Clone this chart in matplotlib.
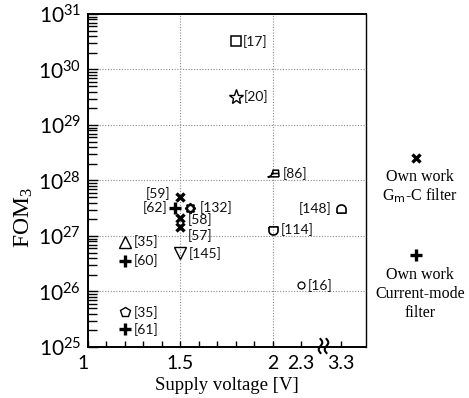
import numpy as np
import matplotlib
matplotlib.use("Agg")
import matplotlib.pyplot as plt
import matplotlib.transforms as mtransforms
from matplotlib.path import Path
from matplotlib.ticker import FixedLocator, FuncFormatter, LogLocator, NullFormatter

# ---- data -------------------------------------------------------------
refs = ["[17]", "[20]", "[86]", "[59]", "[62]", "[132]", "[58]", "[57]",
        "[35]", "[60]", "[145]", "[35]", "[61]", "[148]", "[114]", "[16]"]
supply_v = [1.8, 1.8, 2.0, 1.5, 1.47, 1.55, 1.5, 1.5,
            1.2, 1.2, 1.5, 1.2, 1.2, 3.3, 2.0, 2.3]
fom3 = [3.2e30, 3.2e29, 1.35e28, 5.1e27, 3.2e27, 3.2e27, 2.1e27, 1.45e27,
        7.9e26, 3.6e26, 4.9e26, 4.2e25, 2.1e25, 3.1e27, 1.3e27, 1.3e26]

x_major = [1, 1.5, 2, 2.3, 3.3]
x_major_labels = ["1", "1.5", "2", "2.3", "3.3"]
x_minor = [1.1, 1.2, 1.3, 1.4, 1.6, 1.7, 1.8, 1.9]

# ---- marker shapes ----------------------------------------------------
def arch_path(flip=False):
    t = np.linspace(0, np.pi, 30)
    xs = np.concatenate([[-1], -np.cos(t), [1, -1]])
    ys = np.concatenate([[-0.8], 0.1 + 0.9 * np.sin(t), [-0.8, -0.8]])
    verts = np.column_stack([xs, ys])
    if flip:
        verts[:, 1] *= -1
    return Path(verts)

def iron_path():
    t = np.linspace(0, np.pi / 2, 12)
    # curved front edge from the tip up to the handle
    front = np.column_stack([-1 + 0.9 * np.sin(t), -0.6 + 1.2 * (1 - np.cos(t))])
    outline = np.vstack([[[1, -0.6], [-1, -0.6]], front, [[0.9, 0.6], [1, -0.6]]])
    inner = np.array([[-0.45, 0.0], [0.95, 0.0]])
    verts = np.vstack([outline, inner])
    codes = ([Path.MOVETO] + [Path.LINETO] * (len(outline) - 1)
             + [Path.MOVETO, Path.LINETO])
    return Path(verts, codes)

gear = Path.unit_regular_star(8, innerCircle=0.72)

style = {
    "[17]":  dict(marker="s", ms=6.5, mew=1.1, fill=False),
    "[20]":  dict(marker="*", ms=11, mew=1.0, fill=False),
    "[86]":  dict(marker=iron_path(), ms=8, mew=1.1, fill=False),
    "[59]":  dict(marker="x", ms=6, mew=2.4, fill=True),
    "[62]":  dict(marker="+", ms=9, mew=2.4, fill=True),
    "[132]": dict(marker=gear, ms=6.5, mew=1.7, fill=False),
    "[58]":  dict(marker="x", ms=6, mew=2.4, fill=True),
    "[57]":  dict(marker="x", ms=6, mew=2.4, fill=True),
    "[60]":  dict(marker="+", ms=9, mew=2.4, fill=True),
    "[145]": dict(marker="v", ms=9, mew=1.0, fill=False),
    "[61]":  dict(marker="+", ms=9, mew=2.4, fill=True),
    "[148]": dict(marker=arch_path(), ms=6.5, mew=1.2, fill=False),
    "[114]": dict(marker=arch_path(flip=True), ms=6.5, mew=1.2, fill=False),
    "[16]":  dict(marker="o", ms=5, mew=0.9, fill=False),
}
tri_style = dict(marker="^", ms=9, mew=1.0, fill=False)
pent_style = dict(marker="p", ms=7.5, mew=1.0, fill=False)

# label offsets in points (dx, dy, ha)
label_pos = [(5, 0, "left"), (6, 0, "left"), (7, 0, "left"), (-7, 2.5, "right"),
             (-5, 0, "right"), (7, 0, "left"), (5, -1, "left"), (5, -6, "left"),
             (6, 0, "left"), (6, 0, "left"), (6, 0, "left"), (6, 0, "left"),
             (6, 0, "left"), (-7, 0, "right"), (6, 0, "left"), (5, 0, "left")]

# ---- broken supply-voltage scale --------------------------------------
A, B = 0.51, 0.217
U23 = 2 + 0.3 * A

def fwd(v):
    v = np.asarray(v, dtype=float)
    return np.where(v <= 2, v, np.where(v <= 2.3, 2 + (v - 2) * A, U23 + (v - 2.3) * B))

def inv(u):
    u = np.asarray(u, dtype=float)
    return np.where(u <= 2, u, np.where(u <= U23, 2 + (u - 2) / A, 2.3 + (u - U23) / B))

# ---- figure ------------------------------------------------------------
plt.rcParams["font.family"] = ["Lato", "DejaVu Sans"]
plt.rcParams["mathtext.default"] = "regular"

fig = plt.figure(figsize=(4.69, 3.98), dpi=100)
ax = fig.add_axes([88 / 469, 51 / 398, 278 / 469, 333 / 398])
ax.set_xscale("function", functions=(fwd, inv))
ax.set_yscale("log")
ax.set_xlim(1, 3.92)
ax.set_ylim(1e25, 1e31)

ax.xaxis.set_major_locator(FixedLocator(x_major))
ax.xaxis.set_minor_locator(FixedLocator(x_minor))
ax.set_xticklabels(x_major_labels)
ax.xaxis.set_minor_formatter(NullFormatter())
ax.yaxis.set_major_locator(LogLocator(base=10, numticks=20))
ax.yaxis.set_minor_locator(LogLocator(base=10, subs=np.arange(2, 10), numticks=20))
ax.yaxis.set_minor_formatter(NullFormatter())
ax.yaxis.set_major_formatter(FuncFormatter(lambda v, p: r"$10^{%d}$" % round(np.log10(v))))

ax.tick_params(axis="both", which="both", direction="in", color="black", width=1.0)
ax.tick_params(axis="y", which="major", length=7, labelsize=15, pad=5)
ax.tick_params(axis="y", which="minor", length=6.5)
ax.tick_params(axis="x", which="both", length=4, labelsize=14, pad=6)

# nudge the "1" label left of the axis corner
first = ax.get_xticklabels()[0]
first.set_transform(first.get_transform()
                    + mtransforms.ScaledTranslation(-5 / 100, 0, fig.dpi_scale_trans))

for s in ["left", "bottom", "top"]:
    ax.spines[s].set_linewidth(1.4)
ax.spines["right"].set_linewidth(1.0)

# dotted grid at decades and at 1.5 V / 2 V
for d in range(26, 31):
    ax.axhline(10.0 ** d, color="#8a8a8a", ls=(0, (1, 1.5)), lw=0.8, zorder=0)
for v in (1.5, 2.0):
    ax.axvline(v, color="#8a8a8a", ls=(0, (1, 1.5)), lw=0.8, zorder=0)

for i, (r, v, f) in enumerate(zip(refs, supply_v, fom3)):
    if r == "[35]":
        st = tri_style if f > 1e26 else pent_style
    else:
        st = style[r]
    ax.plot([v], [f], linestyle="none", marker=st["marker"], markersize=st["ms"],
            markeredgewidth=st["mew"], markeredgecolor="black",
            markerfacecolor="black" if st["fill"] else "none", clip_on=False, zorder=3)
    dx, dy, ha = label_pos[i]
    ax.annotate(r, (v, f), xytext=(dx, dy), textcoords="offset points",
                ha=ha, va="center", fontsize=10, color="#111111")

# axis break mark on the voltage axis
W, H = 469.0, 398.0
for x0 in (320.5, 326.5):
    yy = np.linspace(339, 353, 40)
    xx = x0 + 1.8 * np.sin((yy - 339) / 14 * 2 * np.pi)
    fig.add_artist(plt.Line2D(xx / W, 1 - yy / H, color="black", lw=1.5,
                              transform=fig.transFigure))

ax.set_xlabel("Supply voltage [V]", family="Liberation Serif", fontsize=13.5, labelpad=3)
ax.set_ylabel(r"FOM$_3$", family="Liberation Serif", fontsize=17)
ax.yaxis.set_label_coords(-0.19, 0.39)

# side key
serif = dict(family="Liberation Serif", fontsize=11.5, ha="center", va="center")
fig.add_artist(plt.Line2D([416 / W], [1 - 158 / H], marker="x", ms=6, mew=2.4,
                          color="black", transform=fig.transFigure))
fig.text(420 / W, 1 - 177 / H, "Own work", **serif)
fig.text(420 / W, 1 - 196 / H, r"G$_{\rm m}$-C filter", **serif)
fig.add_artist(plt.Line2D([416 / W], [1 - 255 / H], marker="+", ms=9, mew=2.4,
                          color="black", transform=fig.transFigure))
fig.text(420 / W, 1 - 275 / H, "Own work", **serif)
fig.text(420 / W, 1 - 294 / H, "Current-mode", **serif)
fig.text(420 / W, 1 - 313 / H, "filter", **serif)

fig.savefig("out.png", dpi=100)
